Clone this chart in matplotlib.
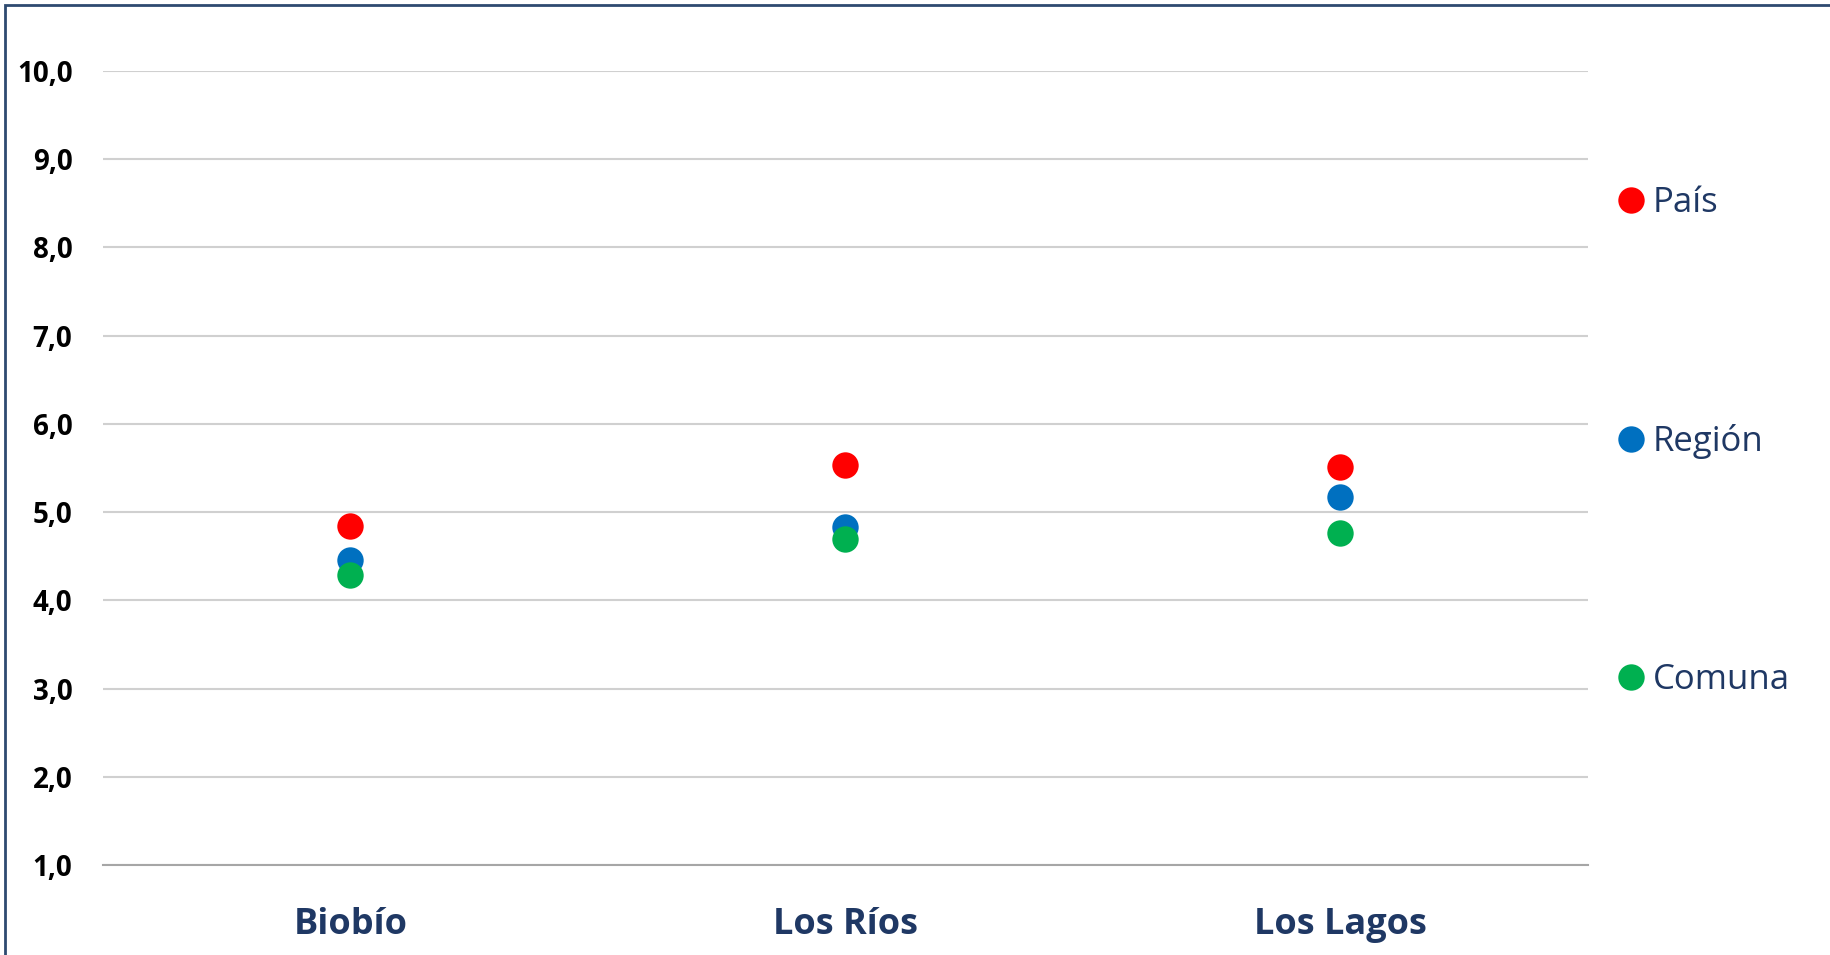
import matplotlib
matplotlib.use("Agg")
import matplotlib.pyplot as plt
from matplotlib.patches import Rectangle

categories = ["Biobío", "Los Ríos", "Los Lagos"]
series_names = ["País", "Región", "Comuna"]
pais = [4.84, 5.53, 5.51]
region = [4.46, 4.83, 5.17]
comuna = [4.29, 4.69, 4.76]
yticks = [1, 2, 3, 4, 5, 6, 7, 8, 9, 10]
ytick_labels = ["1,0", "2,0", "3,0", "4,0", "5,0", "6,0", "7,0", "8,0", "9,0", "10,0"]
colors = ["#FF0000", "#0070C0", "#00B050"]

plt.rcParams['font.family'] = ['Open Sans', 'DejaVu Sans']

W, H = 1831, 955
fig = plt.figure(figsize=(W / 100, H / 100), dpi=100)
ax = fig.add_axes([103 / W, 1 - 865 / H, (1588 - 103) / W, (865 - 71) / H])

x = list(range(len(categories)))
for vals, name, c in zip([pais, region, comuna], series_names, colors):
    ax.plot(x, vals, linestyle="none", marker="o", markersize=19,
            markerfacecolor=c, markeredgecolor=c, markeredgewidth=0, label=name, zorder=3)

ax.set_xlim(-0.5, len(categories) - 0.5)
ax.set_ylim(1, 10)
ax.set_yticks(yticks)
ax.set_yticklabels(ytick_labels, fontsize=20, fontweight="bold", color="black")
ax.set_xticks(x)
ax.set_xticklabels(categories, fontsize=26, fontweight="bold", color="#1F3864")
ax.tick_params(axis="y", length=0, pad=22)
ax.tick_params(axis="x", length=0, pad=30)
ax.grid(axis="y", color="#D0D0D0", linewidth=1.5, zorder=0)
ax.set_axisbelow(True)
for s in ["top", "right", "left"]:
    ax.spines[s].set_visible(False)
ax.spines["bottom"].set_color("#A6A6A6")
ax.spines["bottom"].set_linewidth(1.5)

leg = ax.legend(loc="center left", bbox_to_anchor=(1614 / W, 1 - 441.5 / H),
                bbox_transform=fig.transFigure, frameon=False, fontsize=25,
                handlelength=1.0, handletextpad=0.12, borderpad=0, borderaxespad=0,
                labelspacing=5.88, numpoints=1)
for t in leg.get_texts():
    t.set_color("#1F3864")

border = Rectangle((5 / W, -0.5), 2, 1.5 - 5 / H, transform=fig.transFigure,
                   fill=False, edgecolor="#2E4A70", linewidth=2, clip_on=False)
fig.patches.append(border)

fig.savefig("out.png", dpi=100)
